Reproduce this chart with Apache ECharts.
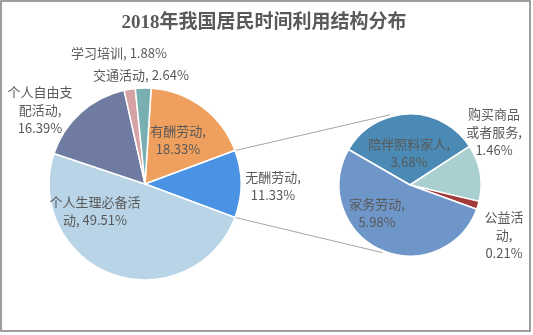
<!DOCTYPE html>
<html><head><meta charset="utf-8">
<script src="https://cdn.jsdelivr.net/npm/echarts@6/dist/echarts.min.js"></script>
<style>html,body{margin:0;padding:0;background:#fff}#c{width:533px;height:335px}</style>
</head><body><div id="c"></div>
<script>
// ---- data ----
const titleText = '2018年我国居民时间利用结构分布';
const mainNames = ['有酬劳动', '无酬劳动', '个人生理必备活动', '个人自由支配活动', '学习培训', '交通活动'];
const mainValues = [18.33, 11.33, 49.51, 16.39, 1.88, 2.64];
const subNames = ['陪伴照料家人', '购买商品或者服务', '公益活动', '家务劳动'];
const subValues = [3.68, 1.46, 0.21, 5.98];
const otherIndex = 1; // main slice broken out into the second pie

// ---- styles / layout ----
const mainColors = ['#F0A05E', '#4A93E4', '#B8D4E6', '#6F7BA1', '#D5A3A3', '#79AFB1'];
const subColors = ['#4A8AB5', '#AACFD1', '#A33B3B', '#6E96C9'];
const mainCenter = [145, 184], mainR = 96;
const subCenter = [410, 185], subR = 71;
const subStartAngle = 150;
const connectorAnglesSub = [344, 202]; // clockwise from 12 o'clock
const mainLabelBreaks = [[5], [5], [7], [5, 4], [], []];
const subLabelBreaks = [[7], [4, 5], [3, 2], [5]];
const mainLabelPos = [[178, 140], [273, 186], [95, 211], [40, 110], [119, 53], [141, 75]];
const subLabelPos = [[409, 153], [494, 132], [504, 235], [377, 213]];
const textColor = '#595959';

function labelText(name, value, breaks) {
  const full = name + ', ' + value.toFixed(2) + '%';
  const lines = [];
  let pos = 0;
  breaks.forEach(n => { lines.push(full.slice(pos, pos + n).trim()); pos += n; });
  lines.push(full.slice(pos).trim());
  return lines.join('\n');
}

const sum = a => a.reduce((s, v) => s + v, 0);
const mainTotal = sum(mainValues);
let before = 0;
for (let i = 0; i < otherIndex; i++) before += mainValues[i];
// put the broken-out slice centred at 3 o'clock
const mainStartAngle = (before + mainValues[otherIndex] / 2) / mainTotal * 360;
const halfOther = mainValues[otherIndex] / 2 / mainTotal * 360;
const mainEdgeCW = [90 - halfOther, 90 + halfOther];

function pt(center, r, cwDeg) {
  const a = cwDeg * Math.PI / 180;
  return [center[0] + r * Math.sin(a), center[1] - r * Math.cos(a)];
}
const p1 = pt(mainCenter, mainR, mainEdgeCW[0]);
const p2 = pt(mainCenter, mainR, mainEdgeCW[1]);
const q1 = pt(subCenter, subR + 2, connectorAnglesSub[0]);
const q2 = pt(subCenter, subR + 2, connectorAnglesSub[1]);

const labelStyle = {
  show: true, position: 'inside', color: textColor, fontSize: 13,
  fontFamily: '"Noto Sans CJK SC", sans-serif', lineHeight: 18, align: 'center'
};

const chart = echarts.init(document.getElementById('c'), null, {renderer: 'canvas'});
chart.setOption({
  backgroundColor: '#fff',
  animation: false,
  title: {
    text: titleText, left: 259, top: 9, textAlign: 'center',
    textStyle: {color: textColor, fontSize: 19, fontWeight: 'bold',
      fontFamily: '"Liberation Serif", "Noto Sans CJK SC", serif'}
  },
  graphic: [
    {type: 'rect', shape: {x: 1, y: 1, width: 529, height: 330}, silent: true,
      style: {fill: 'none', stroke: '#7F7F7F', lineWidth: 1.5}, z: 100},
    {type: 'line', shape: {x1: p1[0], y1: p1[1], x2: q1[0], y2: q1[1]}, silent: true,
      style: {stroke: '#A6A6A6', lineWidth: 1}},
    {type: 'line', shape: {x1: p2[0], y1: p2[1], x2: q2[0], y2: q2[1]}, silent: true,
      style: {stroke: '#A6A6A6', lineWidth: 1}}
  ],
  series: [
    {
      type: 'pie', center: mainCenter, radius: mainR, startAngle: mainStartAngle,
      clockwise: true, avoidLabelOverlap: false, silent: true,
      itemStyle: {borderColor: '#fff', borderWidth: 1.5},
      data: mainNames.map((n, i) => ({
        name: n, value: mainValues[i], itemStyle: {color: mainColors[i]},
        label: Object.assign({}, labelStyle, {formatter: labelText(n, mainValues[i], mainLabelBreaks[i])})
      })),
      labelLine: {show: false},
      labelLayout: p => ({x: mainLabelPos[p.dataIndex][0], y: mainLabelPos[p.dataIndex][1], align: 'center', verticalAlign: 'middle'})
    },
    {
      type: 'pie', center: subCenter, radius: subR, startAngle: subStartAngle,
      clockwise: true, avoidLabelOverlap: false, silent: true,
      itemStyle: {borderColor: '#fff', borderWidth: 1.5},
      data: subNames.map((n, i) => ({
        name: n, value: subValues[i], itemStyle: {color: subColors[i]},
        label: Object.assign({}, labelStyle, {formatter: labelText(n, subValues[i], subLabelBreaks[i])})
      })),
      labelLine: {show: false},
      labelLayout: p => ({x: subLabelPos[p.dataIndex][0], y: subLabelPos[p.dataIndex][1], align: 'center', verticalAlign: 'middle'})
    }
  ]
});
</script></body></html>
